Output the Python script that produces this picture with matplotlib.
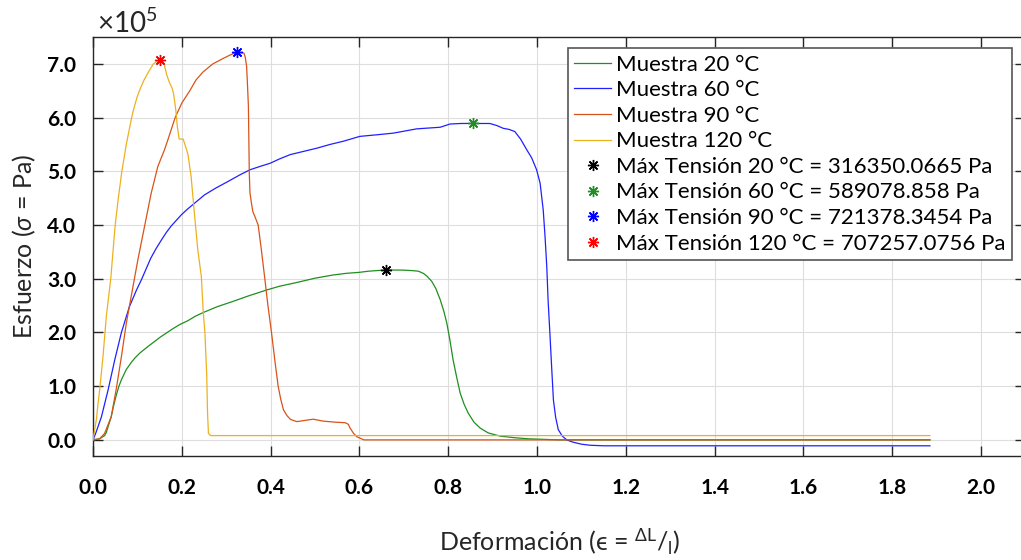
import matplotlib
matplotlib.use("Agg")
import matplotlib.pyplot as plt

# ---------------- data (stress in units of 1e5 Pa) ----------------
x20 = [0, 0.015, 0.026, 0.030, 0.041, 0.046, 0.052, 0.058, 0.064, 0.075, 0.086, 0.095,
       0.106, 0.124, 0.14, 0.151, 0.169, 0.18, 0.196, 0.214, 0.23, 0.248, 0.28, 0.316,
       0.35, 0.391, 0.42, 0.459, 0.50, 0.541, 0.57, 0.601, 0.62, 0.66, 0.70, 0.721,
       0.733, 0.744, 0.752, 0.763, 0.772, 0.782, 0.79, 0.797, 0.804, 0.811, 0.819, 0.827,
       0.836, 0.845, 0.858, 0.872, 0.89, 0.917, 0.95, 0.98, 1.05, 1.885]
y20 = [0, 0.02, 0.08, 0.14, 0.43, 0.62, 0.82, 0.99, 1.12, 1.31, 1.44, 1.53,
       1.62, 1.74, 1.84, 1.91, 2.01, 2.07, 2.15, 2.22, 2.30, 2.37, 2.48, 2.58,
       2.68, 2.79, 2.86, 2.93, 3.01, 3.07, 3.10, 3.12, 3.14, 3.1635, 3.16, 3.15,
       3.14, 3.10, 3.05, 2.95, 2.82, 2.61, 2.40, 2.17, 1.85, 1.49, 1.17, 0.87,
       0.66, 0.50, 0.33, 0.22, 0.13, 0.07, 0.04, 0.02, 0.0, 0.0]

x60 = [0, 0.006, 0.019, 0.034, 0.049, 0.064, 0.082, 0.098, 0.109, 0.120, 0.130, 0.142,
       0.154, 0.165, 0.176, 0.188, 0.199, 0.212, 0.225, 0.238, 0.251, 0.277, 0.304, 0.33,
       0.354, 0.376, 0.399, 0.42, 0.444, 0.474, 0.504, 0.534, 0.564, 0.601, 0.64, 0.676,
       0.729, 0.782, 0.804, 0.829, 0.855, 0.87, 0.894, 0.91, 0.924, 0.937, 0.95, 0.963,
       0.977, 0.988, 0.999, 1.007, 1.014, 1.018, 1.022, 1.025, 1.029, 1.033, 1.037, 1.042,
       1.048, 1.057, 1.067, 1.08, 1.10, 1.12, 1.15, 1.885]
y60 = [0, 0.12, 0.43, 0.93, 1.49, 2.0, 2.48, 2.79, 2.98, 3.19, 3.38, 3.56,
       3.72, 3.86, 3.98, 4.09, 4.19, 4.29, 4.38, 4.47, 4.56, 4.69, 4.81, 4.93,
       5.03, 5.09, 5.15, 5.23, 5.31, 5.37, 5.43, 5.50, 5.56, 5.65, 5.68, 5.71,
       5.79, 5.82, 5.88, 5.89, 5.8908, 5.89, 5.89, 5.85, 5.80, 5.78, 5.74, 5.60,
       5.40, 5.25, 5.03, 4.78, 4.28, 3.80, 3.23, 2.60, 1.99, 1.35, 0.74, 0.42,
       0.19, 0.07, 0.0, -0.04, -0.08, -0.10, -0.11, -0.11]

x90 = [0, 0.015, 0.026, 0.041, 0.052, 0.064, 0.075, 0.086, 0.101, 0.116, 0.131, 0.146,
       0.161, 0.17, 0.185, 0.2, 0.218, 0.232, 0.248, 0.27, 0.293, 0.31, 0.325, 0.333,
       0.340, 0.343, 0.346, 0.348, 0.350, 0.351, 0.352, 0.3535, 0.357, 0.36, 0.365, 0.372,
       0.379, 0.387, 0.394, 0.402, 0.41, 0.417, 0.423, 0.429, 0.437, 0.445, 0.459, 0.475,
       0.496, 0.518, 0.545, 0.568, 0.575, 0.579, 0.587, 0.594, 0.61, 1.885]
y90 = [0, 0.02, 0.12, 0.43, 0.93, 1.55, 2.17, 2.67, 3.35, 3.97, 4.59, 5.09,
       5.40, 5.62, 6.0, 6.27, 6.5, 6.7, 6.85, 7.0, 7.1, 7.17, 7.2138, 7.21,
       7.2, 7.12, 6.95, 6.6, 6.21, 5.6, 4.97, 4.6, 4.4, 4.25, 4.15, 4.0,
       3.55, 3.0, 2.5, 2.0, 1.45, 1.0, 0.75, 0.56, 0.45, 0.38, 0.34, 0.36,
       0.385, 0.35, 0.33, 0.32, 0.29, 0.22, 0.12, 0.06, 0.0, 0.0]

x120 = [0, 0.004, 0.008, 0.011, 0.015, 0.0225, 0.026, 0.030, 0.035, 0.040, 0.045, 0.050,
        0.057, 0.065, 0.07, 0.075, 0.081, 0.087, 0.093, 0.100, 0.107, 0.115, 0.125, 0.136,
        0.143, 0.150, 0.155, 0.16, 0.166, 0.170, 0.174, 0.178, 0.181, 0.184, 0.187, 0.190,
        0.194, 0.203, 0.209, 0.214, 0.221, 0.229, 0.236, 0.244, 0.248, 0.252, 0.256, 0.258,
        0.260, 0.265, 1.885]
y120 = [0, 0.2, 0.4, 0.65, 0.93, 1.55, 1.9, 2.30, 2.65, 3.0, 3.5, 4.0,
        4.5, 5.0, 5.25, 5.5, 5.75, 6.0, 6.2, 6.4, 6.55, 6.7, 6.85, 7.0,
        7.04, 7.0726, 7.07, 7.0, 6.8, 6.70, 6.62, 6.55, 6.46, 6.3, 6.1, 5.83,
        5.60, 5.60, 5.45, 5.31, 4.9, 4.16, 3.54, 3.04, 2.42, 2.0, 1.24, 0.5,
        0.12, 0.08, 0.08]

series_labels = ["Muestra 20 °C", "Muestra 60 °C", "Muestra 90 °C", "Muestra 120 °C"]
series_colors = ["#1f8f1f", "#2020ff", "#D95319", "#EDB120"]

peak_x = [0.66, 0.855, 0.325, 0.150]
peak_y = [3.163500665, 5.89078858, 7.213783454, 7.072570756]
peak_labels = ["Máx Tensión 20 °C = 316350.0665 Pa",
               "Máx Tensión 60 °C = 589078.858 Pa",
               "Máx Tensión 90 °C = 721378.3454 Pa",
               "Máx Tensión 120 °C = 707257.0756 Pa"]
peak_colors = ["#000000", "#1f8f1f", "#0000ff", "#ff0000"]

xticks = [0.0, 0.2, 0.4, 0.6, 0.8, 1.0, 1.2, 1.4, 1.6, 1.8, 2.0]
yticks = [0, 1, 2, 3, 4, 5, 6, 7]

# ---------------- figure ----------------
plt.rcParams['font.family'] = ['Lato', 'DejaVu Sans']
plt.rcParams['mathtext.fontset'] = 'custom'
plt.rcParams['mathtext.rm'] = 'Lato'
plt.rcParams['mathtext.it'] = 'Lato:italic'

W, H = 1021, 560
fig = plt.figure(figsize=(W / 100, H / 100), dpi=100)
left, right, top, bottom = 93, 1025.4, 37, 456
aw, ah = right - left, bottom - top
ax = fig.add_axes([left / W, (H - bottom) / H, aw / W, ah / H])

dark = "#262626"
xs = [x20, x60, x90, x120]
ys = [y20, y60, y90, y120]
handles = []
for xv, yv, c, lab in zip(xs, ys, series_colors, series_labels):
    h, = ax.plot(xv, yv, color=c, lw=0.9, label=lab, zorder=3)
    handles.append(h)

asterisk = (8, 2, 0)
for px, py, c, lab in zip(peak_x, peak_y, peak_colors, peak_labels):
    h, = ax.plot([px], [py], linestyle='none', marker=asterisk, ms=8, mew=1.0,
                 color=c, label=lab, zorder=4)
    handles.append(h)

ax.set_xlim(0, 2.1)
ax.set_ylim(-0.3, 7.5)
ax.set_xticks(xticks)
ax.set_xticklabels([f"{t:.1f}" for t in xticks])
ax.set_yticks(yticks)
ax.set_yticklabels([f"{t:.1f}" for t in yticks])

ax.grid(True, color="#dedede", lw=0.8, zorder=0)
ax.set_axisbelow(True)
for s in ax.spines.values():
    s.set_color(dark)
    s.set_linewidth(1.0)

ax.tick_params(axis='both', which='both', direction='in', length=7, width=1.0,
               color=dark, top=True, right=True)
ax.tick_params(axis='x', pad=16, labelsize=15)
ax.tick_params(axis='y', pad=12, labelsize=15)
for lbl in ax.get_xticklabels() + ax.get_yticklabels():
    lbl.set_fontweight('bold')
    lbl.set_color('black')

ax.set_ylabel("Esfuerzo ($\\sigma$ = Pa)", fontsize=18, color=dark)
ax.yaxis.set_label_coords((38 - left) / aw, 0.5)
ax.set_xlabel("Deformación (\u03f5 = ${}^{\\Delta\\mathrm{L}}/_{\\mathrm{l}}$)",
              fontsize=18, color=dark)
ax.xaxis.set_label_coords(0.5, (bottom - 527) / ah)

fig.text(97 / W, 1 - 33 / H, r"$\times10^{5}$", fontsize=20, color=dark,
         ha='left', va='baseline')

leg = ax.legend(handles=handles, loc='upper right',
                bbox_to_anchor=((1012 - left) / aw, (bottom - 48) / ah),
                fontsize=16, frameon=True, fancybox=False, framealpha=1,
                edgecolor="#555555", handlelength=1.67, handletextpad=0.2,
                labelspacing=0.25, borderpad=0.3, borderaxespad=0)
leg.get_frame().set_linewidth(1.2)
for t in leg.get_texts():
    t.set_color('black')

fig.savefig("out.png", dpi=100)
